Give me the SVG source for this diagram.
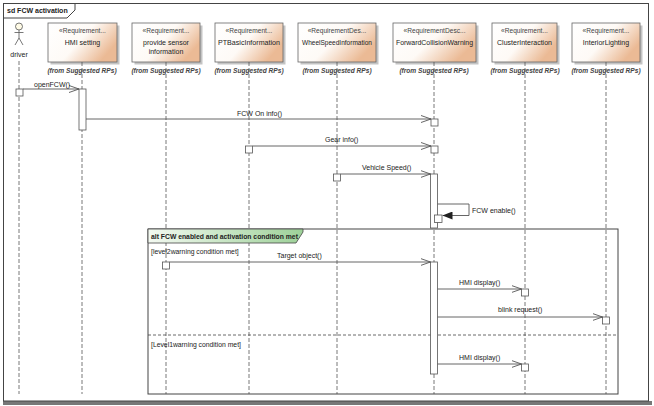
<svg xmlns="http://www.w3.org/2000/svg" width="654" height="406" viewBox="0 0 654 406">
<style>
text{font-family:"Liberation Sans",Arial,sans-serif;font-size:7px;fill:#222}
.st{fill:#444;font-size:6.6px}
.nm{fill:#222;text-anchor:middle}
.from{font-style:italic;font-weight:bold;fill:#444;text-anchor:middle;font-size:6.6px}
.box{fill:url(#peach);stroke:#666;stroke-width:0.8}
.shadow{fill:#c4c4c4}
.life{stroke:#555;stroke-width:0.8;stroke-dasharray:4 2;fill:none}
.msg{stroke:#555;stroke-width:0.9;fill:none}
.act{fill:#fff;stroke:#555;stroke-width:0.8}
.frame{fill:none;stroke:#444;stroke-width:1}
</style>
<defs>
<linearGradient id="peach" x1="0" y1="0" x2="1" y2="0.5">
<stop offset="0" stop-color="#ffffff"/>
<stop offset="0.55" stop-color="#fefaf6"/>
<stop offset="1" stop-color="#ebba95"/>
</linearGradient>
<linearGradient id="green" x1="0" y1="0" x2="1" y2="0">
<stop offset="0" stop-color="#f3f9f1"/>
<stop offset="1" stop-color="#9dd198"/>
</linearGradient>
<marker id="open" viewBox="0 0 10 8" refX="10" refY="4" markerWidth="10" markerHeight="8" markerUnits="userSpaceOnUse" orient="auto">
<path d="M0,0.5 L10,4 L0,7.5" fill="none" stroke="#555" stroke-width="0.9"/>
</marker>
<marker id="filled" viewBox="0 0 10 8" refX="10" refY="4" markerWidth="10" markerHeight="8" markerUnits="userSpaceOnUse" orient="auto">
<path d="M0,0 L10,4 L0,8 z" fill="#222"/>
</marker>
</defs>
<rect x="0" y="0" width="654" height="406" fill="#fff"/>
<rect x="3" y="401" width="649" height="4" fill="#777"/>
<rect x="3.5" y="3.5" width="645" height="397.5" class="frame"/>
<path d="M3.5,18 H67 L75,10 V3.5" class="frame"/>
<text x="7" y="13" style="font-weight:bold">sd FCW activation</text>

<g id="driver">
<circle cx="19" cy="26.5" r="3.5" fill="#fffbe6" stroke="#555" stroke-width="0.8"/>
<path d="M19,30 V38 M14.5,32.5 H23.5 M19,38 L15,45 M19,38 L23,45" stroke="#555" stroke-width="0.8" fill="none"/>
<text x="19" y="57" class="nm">driver</text>
<line x1="19" y1="61" x2="19" y2="394" class="life"/>
</g>

<g id="hmi_setting">
<rect x="50.5" y="25.5" width="69" height="39" class="shadow"/>
<rect x="48" y="23" width="69" height="39" class="box"/>
<text x="82.5" y="32.5" class="st" text-anchor="middle">«Requirement...</text>
<text x="82.5" y="44.5" class="nm">HMI setting</text>
<text x="82" y="73" class="from">(from Suggested RPs)</text>
<line x1="82" y1="62" x2="82" y2="394" class="life"/>
</g>

<g id="provide_sensor">
<rect x="134.5" y="25.5" width="68" height="39" class="shadow"/>
<rect x="132" y="23" width="68" height="39" class="box"/>
<text x="166" y="32.5" class="st" text-anchor="middle">«Requirement...</text>
<text x="166" y="44.5" class="nm">provide sensor</text>
<text x="166" y="54" class="nm">information</text>
<text x="166" y="73" class="from">(from Suggested RPs)</text>
<line x1="166" y1="62" x2="166" y2="394" class="life"/>
</g>

<g id="pt_basic">
<rect x="217.5" y="25.5" width="68" height="39" class="shadow"/>
<rect x="215" y="23" width="68" height="39" class="box"/>
<text x="249" y="32.5" class="st" text-anchor="middle">«Requirement...</text>
<text x="249" y="44.5" class="nm" textLength="62" lengthAdjust="spacingAndGlyphs">PTBasicInformation</text>
<text x="249" y="73" class="from">(from Suggested RPs)</text>
<line x1="249" y1="62" x2="249" y2="394" class="life"/>
</g>

<g id="wheel_speed">
<rect x="300.5" y="25.5" width="78" height="39" class="shadow"/>
<rect x="298" y="23" width="78" height="39" class="box"/>
<text x="337" y="32.5" class="st" text-anchor="middle">«RequirementDes...</text>
<text x="337" y="44.5" class="nm" textLength="70" lengthAdjust="spacingAndGlyphs">WheelSpeedInformation</text>
<text x="337" y="73" class="from">(from Suggested RPs)</text>
<line x1="337" y1="62" x2="337" y2="394" class="life"/>
</g>

<g id="fcw">
<rect x="395.5" y="25.5" width="83" height="39" class="shadow"/>
<rect x="393" y="23" width="83" height="39" class="box"/>
<text x="434.5" y="32.5" class="st" text-anchor="middle">«RequirementDesc...</text>
<text x="434.5" y="44.5" class="nm" textLength="77" lengthAdjust="spacingAndGlyphs">ForwardCollisionWarning</text>
<text x="434" y="73" class="from">(from Suggested RPs)</text>
<line x1="434" y1="62" x2="434" y2="394" class="life"/>
</g>

<g id="cluster">
<rect x="494.5" y="25.5" width="65" height="39" class="shadow"/>
<rect x="492" y="23" width="65" height="39" class="box"/>
<text x="524.5" y="32.5" class="st" text-anchor="middle">«Requirement...</text>
<text x="524.5" y="44.5" class="nm">ClusterInteraction</text>
<text x="525" y="73" class="from">(from Suggested RPs)</text>
<line x1="525" y1="62" x2="525" y2="394" class="life"/>
</g>

<g id="interior">
<rect x="574.5" y="25.5" width="68" height="39" class="shadow"/>
<rect x="572" y="23" width="68" height="39" class="box"/>
<text x="606" y="32.5" class="st" text-anchor="middle">«Requirement...</text>
<text x="606" y="44.5" class="nm">InteriorLighting</text>
<text x="606" y="73" class="from">(from Suggested RPs)</text>
<line x1="606" y1="62" x2="606" y2="394" class="life"/>
</g>

<g id="alt_fragment">
<rect x="148" y="229" width="470" height="165" class="frame"/>
<path d="M148,229 H303 V232 L296,243 H148 Z" fill="url(#green)" stroke="#444" stroke-width="0.8"/>
<text x="151" y="239" style="font-weight:bold;font-size:6.8px">alt FCW enabled and activation condition met</text>
<line x1="148" y1="335" x2="618" y2="335" stroke="#444" stroke-width="0.8" stroke-dasharray="3 2"/>
<text x="151" y="254" style="font-size:6.8px">[level2warning condition met]</text>
<text x="151" y="347" style="font-size:6.8px">[Level1warning condition met]</text>
</g>

<g id="activations">
<rect x="16" y="89" width="7" height="7" class="act"/>
<rect x="79" y="89" width="7" height="41" class="act"/>
<rect x="431" y="119" width="7" height="7" class="act"/>
<rect x="245.5" y="146" width="7" height="7" class="act"/>
<rect x="431" y="146" width="7" height="7" class="act"/>
<rect x="333.5" y="174" width="7" height="7" class="act"/>
<rect x="430.5" y="174" width="7" height="54" class="act"/>
<rect x="434.5" y="215" width="7.5" height="7.5" class="act"/>
<rect x="162.5" y="262" width="7" height="7" class="act"/>
<rect x="430.5" y="262" width="7" height="112" class="act"/>
<rect x="521.5" y="289" width="7" height="7" class="act"/>
<rect x="602.5" y="317" width="7" height="7" class="act"/>
<rect x="521.5" y="364" width="7" height="7" class="act"/>
</g>

<g id="connectors">
<line x1="23" y1="89" x2="79" y2="89" class="msg" marker-end="url(#open)"/>
<text x="34" y="87">openFCW()</text>
<line x1="86" y1="119" x2="431" y2="119" class="msg" marker-end="url(#open)"/>
<text x="237" y="116">FCW On info()</text>
<line x1="252.5" y1="146" x2="431" y2="146" class="msg" marker-end="url(#open)"/>
<text x="325" y="142">Gear info()</text>
<line x1="340.5" y1="174" x2="430.5" y2="174" class="msg" marker-end="url(#open)"/>
<text x="362" y="170">Vehicle Speed()</text>
<path d="M437.5,204 H469 V215.5 H442.5" class="msg" marker-end="url(#filled)"/>
<text x="472" y="213">FCW enable()</text>
<line x1="169.5" y1="262" x2="430.5" y2="262" class="msg" marker-end="url(#open)"/>
<text x="277" y="258">Target object()</text>
<line x1="437.5" y1="289" x2="521.5" y2="289" class="msg" marker-end="url(#open)"/>
<text x="459" y="285">HMI display()</text>
<line x1="437.5" y1="317" x2="602.5" y2="317" class="msg" marker-end="url(#open)"/>
<text x="498" y="312">blink request()</text>
<line x1="437.5" y1="364" x2="521.5" y2="364" class="msg" marker-end="url(#open)"/>
<text x="459" y="360">HMI display()</text>
</g>
</svg>
